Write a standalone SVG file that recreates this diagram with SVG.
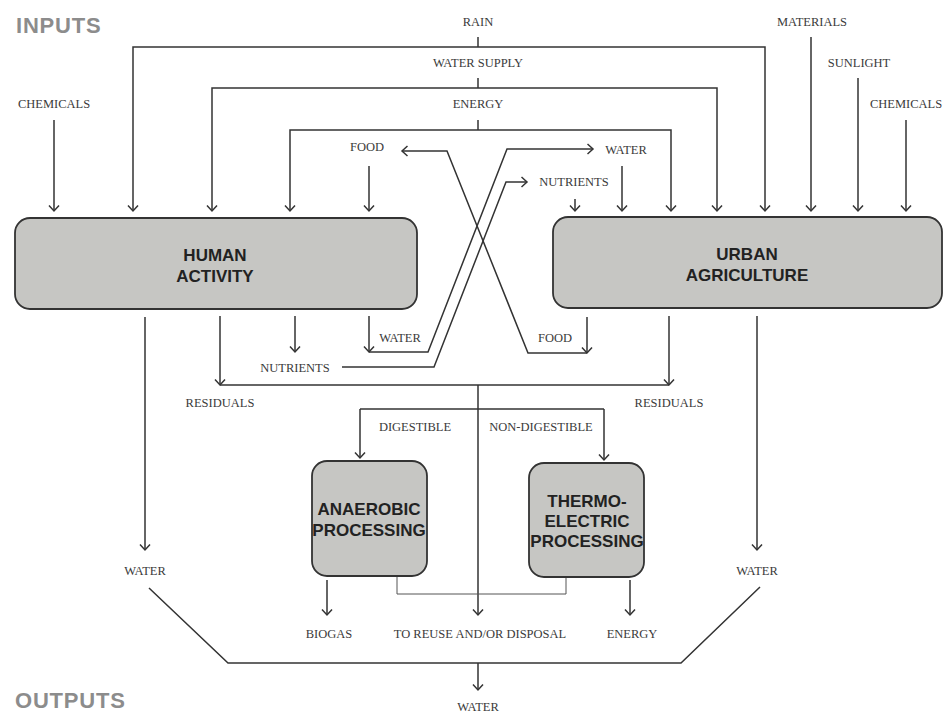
<svg xmlns="http://www.w3.org/2000/svg" width="949" height="713" viewBox="0 0 949 713">
<defs>
<marker id="ah" markerWidth="12" markerHeight="12" refX="6" refY="6" orient="auto" markerUnits="userSpaceOnUse">
<path d="M0.5,1 L6,6 L0.5,11" fill="none" stroke="#333" stroke-width="1.5"/>
</marker>
<style>
.c{fill:none;stroke:#333;stroke-width:1.5}
.a{marker-end:url(#ah)}
.thin{fill:none;stroke:#555;stroke-width:1}
.l{font-family:"Liberation Serif","Times New Roman",serif;font-size:12.5px;fill:#3a3a3a;text-anchor:middle}
.h{font-family:"Liberation Sans",Arial,sans-serif;font-weight:bold;font-size:22px;fill:#8c8c8c;letter-spacing:0.8px}
.box{fill:#c6c6c3;stroke:#333;stroke-width:1.8}
.n{font-family:"Liberation Sans",Arial,sans-serif;font-weight:bold;font-size:17px;fill:#222;text-anchor:middle}
</style>
</defs>
<rect width="949" height="713" fill="#fff"/>
<text class="h" x="16" y="33">INPUTS</text>
<text class="h" x="15" y="708">OUTPUTS</text>

<g id="connectors">
<path class="c" d="M478,37 V47"/>
<path class="c a" d="M478,47 H133 V211"/>
<path class="c a" d="M478,47 H765 V211"/>
<path class="c" d="M478,78 V88"/>
<path class="c a" d="M478,88 H212 V211"/>
<path class="c a" d="M478,88 H717 V211"/>
<path class="c" d="M478,120 V130"/>
<path class="c a" d="M478,130 H290 V211"/>
<path class="c a" d="M478,130 H671 V211"/>
<path class="c a" d="M54,120 V211"/>
<path class="c a" d="M369,166 V211"/>
<path class="c a" d="M811,37 V211"/>
<path class="c a" d="M858,78 V211"/>
<path class="c a" d="M906,120 V211"/>
<path class="c a" d="M622,166 V211"/>
<path class="c a" d="M575,199 V211"/>
<path class="c a" d="M587,317 V353"/>
<path class="c a" d="M587,353 H528 L447,151 H402"/>
<path class="c a" d="M369,316 V352"/>
<path class="c a" d="M369,352 H428 L507,149 H593"/>
<path class="c a" d="M295,316 V352"/>
<path class="c a" d="M342,367 H434 L506,182 H527"/>
<path class="c a" d="M220,316 V385"/>
<path class="c a" d="M669,316 V385"/>
<path class="c" d="M220,385 H669"/>
<path class="c a" d="M478,385 V615"/>
<path class="c" d="M360,409 H604"/>
<path class="c a" d="M360,409 V458"/>
<path class="c a" d="M604,409 V460"/>
<path class="c a" d="M145,317 V550"/>
<path class="c a" d="M757,316 V550"/>
<path class="c a" d="M327,580 V615"/>
<path class="c a" d="M630,580 V615"/>
<path class="thin" d="M397,577 V594 H566 V578"/>
<path class="c" d="M149,588 L228,663 H681 L760,587"/>
<path class="c a" d="M478,663 V690"/>
</g>

<g id="labels">
<text class="l" x="478" y="26">RAIN</text>
<text class="l" x="478" y="67">WATER SUPPLY</text>
<text class="l" x="478" y="108">ENERGY</text>
<text class="l" x="54" y="108">CHEMICALS</text>
<text class="l" x="367" y="151">FOOD</text>
<text class="l" x="626" y="154">WATER</text>
<text class="l" x="574" y="186">NUTRIENTS</text>
<text class="l" x="812" y="26">MATERIALS</text>
<text class="l" x="859" y="67">SUNLIGHT</text>
<text class="l" x="906" y="108">CHEMICALS</text>
<text class="l" x="400" y="342">WATER</text>
<text class="l" x="295" y="372">NUTRIENTS</text>
<text class="l" x="555" y="342">FOOD</text>
<text class="l" x="220" y="407">RESIDUALS</text>
<text class="l" x="669" y="407">RESIDUALS</text>
<text class="l" x="415" y="431">DIGESTIBLE</text>
<text class="l" x="541" y="431">NON-DIGESTIBLE</text>
<text class="l" x="145" y="575">WATER</text>
<text class="l" x="757" y="575">WATER</text>
<text class="l" x="329" y="638">BIOGAS</text>
<text class="l" x="480" y="638">TO REUSE AND/OR DISPOSAL</text>
<text class="l" x="632" y="638">ENERGY</text>
<text class="l" x="478" y="711">WATER</text>
</g>

<g id="human-activity">
<rect class="box" x="15" y="218" width="402" height="91" rx="15"/>
<text class="n" x="215" y="261">HUMAN</text>
<text class="n" x="215" y="282">ACTIVITY</text>
</g>
<g id="urban-agriculture">
<rect class="box" x="553" y="217" width="389" height="91" rx="15"/>
<text class="n" x="747" y="260">URBAN</text>
<text class="n" x="747" y="281">AGRICULTURE</text>
</g>
<g id="anaerobic-processing">
<rect class="box" x="312" y="461" width="115" height="115" rx="15"/>
<text class="n" x="369" y="515">ANAEROBIC</text>
<text class="n" x="369" y="536">PROCESSING</text>
</g>
<g id="thermo-electric-processing">
<rect class="box" x="529" y="463" width="115" height="114" rx="15"/>
<text class="n" x="587" y="507">THERMO-</text>
<text class="n" x="587" y="527">ELECTRIC</text>
<text class="n" x="587" y="547">PROCESSING</text>
</g>
</svg>
